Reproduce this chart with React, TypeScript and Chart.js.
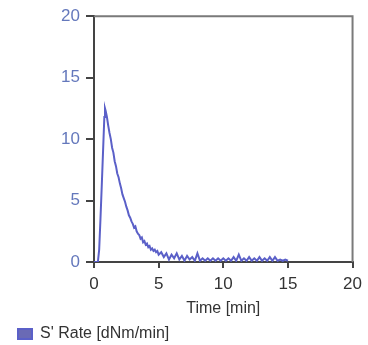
import React, { useEffect, useRef } from "react";
import { Chart, registerables } from "chart.js";

Chart.register(...registerables);

const times: number[] = [
  0, 0.1, 0.2, 0.3, 0.4, 0.5, 0.6, 0.7, 0.8, 0.85, 0.9, 1.0,
  1.1, 1.2, 1.3, 1.4, 1.5, 1.6, 1.7, 1.8, 1.9, 2.0,
  2.1, 2.2, 2.3, 2.4, 2.5, 2.6, 2.7, 2.8, 2.9, 3.0,
  3.1, 3.2, 3.3, 3.4, 3.5, 3.6, 3.7, 3.8, 3.9, 4.0,
  4.1, 4.2, 4.3, 4.4, 4.5, 4.6, 4.7, 4.8, 4.9, 5.0,
  5.2, 5.4, 5.6, 5.8, 6.0, 6.2, 6.4, 6.6, 6.8, 7.0,
  7.2, 7.4, 7.6, 7.8, 8.0, 8.2, 8.4, 8.6, 8.8, 9.0,
  9.2, 9.4, 9.6, 9.8, 10.0, 10.2, 10.4, 10.6, 10.8, 11.0,
  11.2, 11.4, 11.6, 11.8, 12.0, 12.2, 12.4, 12.6, 12.8, 13.0,
  13.2, 13.4, 13.6, 13.8, 14.0, 14.2, 14.4, 14.6, 14.8, 15.0,
];

const rateValues: number[] = [
  0, 0, 0, 0, 1.0, 3.5, 6.2, 9.0, 11.8, 12.5, 12.3, 11.8,
  11.1, 10.5, 10.0, 9.3, 8.9, 8.2, 7.8, 7.2, 6.9, 6.4,
  6.0, 5.5, 5.2, 4.9, 4.5, 4.2, 3.8, 3.6, 3.3, 3.1,
  2.8, 2.9, 2.5, 2.3, 2.2, 1.9, 2.0, 1.6, 1.7, 1.4,
  1.5, 1.2, 1.3, 1.0, 1.1, 0.9, 1.0, 0.8, 0.9, 0.6,
  0.8, 0.4, 0.7, 0.2, 0.6, 0.3, 0.7, 0.2, 0.5, 0.1,
  0.5, 0.2, 0.4, 0.1, 0.7, 0.1, 0.3, 0.1, 0.3, 0.1,
  0.3, 0.1, 0.3, 0.1, 0.3, 0.1, 0.3, 0.1, 0.4, 0.1,
  0.6, 0.1, 0.3, 0.1, 0.4, 0.1, 0.3, 0.1, 0.4, 0.1,
  0.3, 0.1, 0.4, 0.1, 0.4, 0.1, 0.2, 0.1, 0.2, 0.1,
];

const xTicks: number[] = [0, 5, 10, 15, 20];
const yTicks: number[] = [0, 5, 10, 15, 20];
const seriesLabel = "S' Rate [dNm/min]";
const xTitle = "Time [min]";

const frame = {
  id: "frame",
  afterDraw(chart: any) {
    const { ctx, chartArea } = chart;
    ctx.save();
    ctx.strokeStyle = "#7a7a7a";
    ctx.lineWidth = 2;
    ctx.beginPath();
    ctx.moveTo(chartArea.left, chartArea.top);
    ctx.lineTo(chartArea.right, chartArea.top);
    ctx.lineTo(chartArea.right, chartArea.bottom);
    ctx.stroke();
    ctx.restore();
  },
};

export default function App() {
  const ref = useRef<HTMLCanvasElement | null>(null);
  useEffect(() => {
    if (!ref.current) return;
    const chart = new Chart(ref.current, {
      type: "line",
      data: {
        datasets: [
          {
            label: seriesLabel,
            data: times.map((t, i) => ({ x: t, y: rateValues[i] })),
            borderColor: "#5b60c8",
            backgroundColor: "#6a6ab5",
            borderWidth: 2,
            pointRadius: 0,
            tension: 0,
          },
        ],
      },
      options: {
        animation: false,
        responsive: false,
        layout: { padding: { left: 14, right: 15, top: 16, bottom: -7 } },
        plugins: {
          legend: {
            position: "bottom",
            align: "start",
            labels: {
              boxWidth: 14,
              boxHeight: 10,
              padding: 4,
              color: "#333",
              font: { family: "Liberation Sans, Arial", size: 16 },
            },
          },
          tooltip: { enabled: false },
        },
        scales: {
          x: {
            type: "linear",
            min: 0,
            max: 20,
            afterBuildTicks: (s: any) => {
              s.ticks = xTicks.map((v) => ({ value: v }));
            },
            afterFit: (s: any) => {
              s.height = 60;
            },
            ticks: {
              color: "#333",
              padding: 6,
              font: { family: "Liberation Sans, Arial", size: 17 },
            },
            grid: {
              drawOnChartArea: false,
              drawTicks: true,
              tickLength: 6,
              color: "#444",
              lineWidth: 2,
            },
            border: { display: true, color: "#444", width: 2 },
            title: {
              display: true,
              text: xTitle,
              color: "#333",
              font: { family: "Liberation Sans, Arial", size: 16 },
              padding: { top: 2, bottom: 4 },
            },
          },
          y: {
            type: "linear",
            min: 0,
            max: 20,
            afterBuildTicks: (s: any) => {
              s.ticks = yTicks.map((v) => ({ value: v }));
            },
            afterFit: (s: any) => {
              s.width = 80;
            },
            ticks: {
              color: "#6478bc",
              padding: 6,
              font: { family: "Liberation Sans, Arial", size: 17 },
            },
            grid: {
              drawOnChartArea: false,
              drawTicks: true,
              tickLength: 8,
              color: "#444",
              lineWidth: 2,
            },
            border: { display: true, color: "#444", width: 2 },
          },
        },
      },
      plugins: [frame],
    });
    return () => chart.destroy();
  }, []);
  return (
    <div style={{ position: "fixed", left: 0, top: 0, width: 368, height: 345, background: "#fff" }}>
      <canvas ref={ref} width={368} height={345} />
    </div>
  );
}
